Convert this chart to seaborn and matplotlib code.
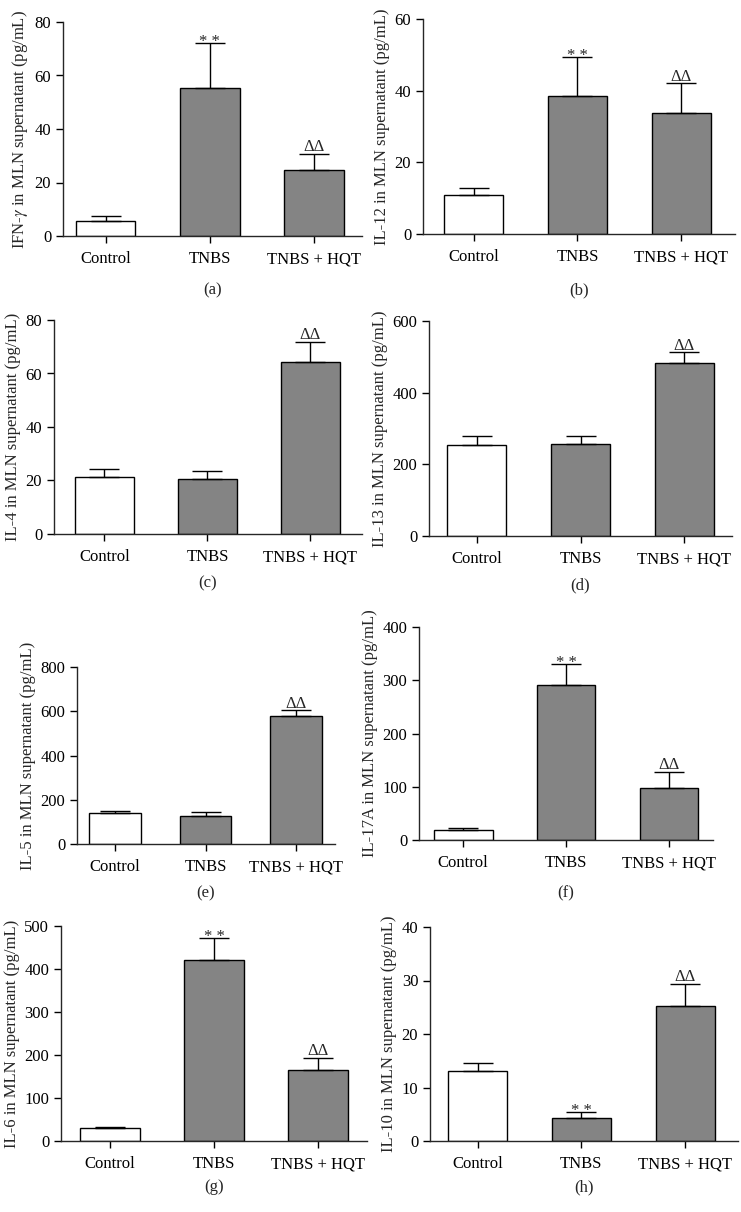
import numpy as np
import pandas as pd
import matplotlib
matplotlib.use("Agg")
import matplotlib.pyplot as plt
import seaborn as sns

groups = ["Control", "TNBS", "TNBS + HQT"]

ifn_gamma = [5.7, 55.4, 24.6]
ifn_gamma_err = [1.9, 16.7, 6.1]
il12 = [10.9, 38.6, 33.9]
il12_err = [2.0, 10.9, 8.2]
il4 = [21.2, 20.4, 64.3]
il4_err = [3.0, 3.0, 7.6]
il13 = [254, 256, 482]
il13_err = [24, 23, 31]
il5 = [141, 126, 579]
il5_err = [6, 20, 26]
il17a = [19, 290.6, 97.5]
il17a_err = [3.5, 40, 30]
il6 = [29.5, 422, 164]
il6_err = [3, 49, 29]
il10 = [13.0, 4.3, 25.2]
il10_err = [1.6, 1.2, 4.2]

marks_ab = ["", "* *", "ΔΔ"]
marks_c = ["", "", "ΔΔ"]

panels = [
    ("IFN-$\\gamma$ in MLN supernatant (pg/mL)", ifn_gamma, ifn_gamma_err, marks_ab, 80, 20, "(a)"),
    ("IL-12 in MLN supernatant (pg/mL)", il12, il12_err, marks_ab, 60, 20, "(b)"),
    ("IL-4 in MLN supernatant (pg/mL)", il4, il4_err, marks_c, 80, 20, "(c)"),
    ("IL-13 in MLN supernatant (pg/mL)", il13, il13_err, marks_c, 600, 200, "(d)"),
    ("IL-5 in MLN supernatant (pg/mL)", il5, il5_err, marks_c, 800, 200, "(e)"),
    ("IL-17A in MLN supernatant (pg/mL)", il17a, il17a_err, marks_ab, 400, 100, "(f)"),
    ("IL-6 in MLN supernatant (pg/mL)", il6, il6_err, marks_ab, 500, 100, "(g)"),
    ("IL-10 in MLN supernatant (pg/mL)", il10, il10_err, marks_ab, 40, 10, "(h)"),
]

# axes boxes in pixels: left, right, top, bottom ; x limits ; label y
boxes = [
    (63, 362, 22, 236, (-0.41, 2.46), 290),
    (423, 735, 19, 234, (-0.49, 2.52), 290),
    (54, 362, 320, 534, (-0.49, 2.50), 583),
    (429, 732, 321, 536, (-0.46, 2.46), 585),
    (77, 335, 667, 844, (-0.42, 2.43), 893),
    (419, 713, 627, 840, (-0.43, 2.43), 893),
    (61, 367, 926, 1141, (-0.47, 2.47), 1187),
    (430, 738, 927, 1141, (-0.46, 2.51), 1187),
]

sns.set_style("ticks")
plt.rcParams["font.family"] = "serif"
plt.rcParams["font.serif"] = ["Liberation Serif", "DejaVu Serif"]
plt.rcParams["mathtext.fontset"] = "stix"

W, H = 741, 1212
fig = plt.figure(figsize=(W / 100, H / 100), dpi=100)
fs = 12

for (ylab, vals, errs, marks, ymax, step, tag), (l, r, t, b, xl, ly) in zip(panels, boxes):
    ax = fig.add_axes([l / W, 1 - b / H, (r - l) / W, (b - t) / H])
    df = pd.DataFrame({"group": groups, "value": vals})
    sns.barplot(data=df, x="group", y="value", hue="group",
                palette=["white", "#848484", "#848484"], edgecolor="black",
                linewidth=1.0, width=0.57, legend=False, ax=ax)
    ax.errorbar(np.arange(3), vals, yerr=[[0, 0, 0], errs], fmt="none",
                ecolor="black", elinewidth=1.0, capsize=10.8, capthick=1.0)
    for i, m in enumerate(marks):
        if m:
            off = -5 if "*" in m else -1
            ax.annotate(m, (i, vals[i] + errs[i]), xytext=(0, off),
                        textcoords="offset points", ha="center", va="bottom",
                        fontsize=fs)
    ax.set_ylim(0, ymax)
    ax.set_yticks(np.arange(0, ymax + 1, step))
    ax.set_xlim(*xl)
    ax.set_xlabel("")
    ax.set_ylabel(ylab, fontsize=fs, labelpad=3)
    ax.tick_params(axis="both", labelsize=fs, length=5, width=1.0, colors="black")
    ax.tick_params(axis="x", pad=6)
    sns.despine(ax=ax)
    for s in ["left", "bottom"]:
        ax.spines[s].set_linewidth(1.0)
    fig.text((l + r) / 2 / W, 1 - ly / H, tag, ha="center", va="center", fontsize=fs)

fig.savefig("out.png", dpi=100)
